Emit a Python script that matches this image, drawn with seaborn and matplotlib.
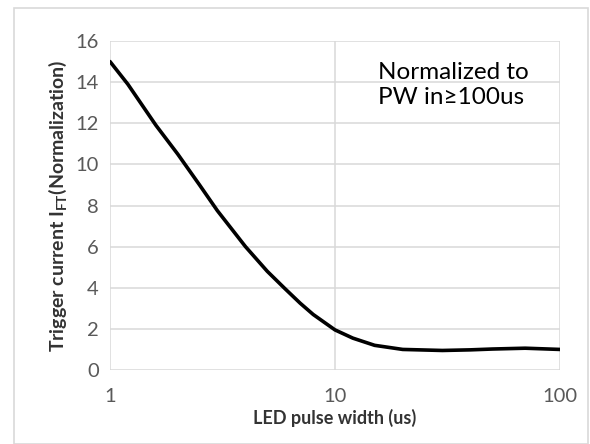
import pandas as pd
import numpy as np
import matplotlib
matplotlib.use("Agg")
import matplotlib.pyplot as plt
import seaborn as sns
from matplotlib.patches import Rectangle
from matplotlib.ticker import FixedLocator, FixedFormatter, NullLocator

pulse_width = [1, 1.2, 1.6, 2, 2.5, 3, 4, 5, 6, 7, 8, 10, 12, 15, 20, 30, 40, 50, 70, 100]
trigger_current = [15.0, 13.9, 11.9, 10.5, 9.0, 7.75, 6.0, 4.8, 3.95, 3.25, 2.7, 1.95,
                   1.55, 1.2, 1.0, 0.95, 0.98, 1.02, 1.06, 1.0]
x_ticks = [1, 10, 100]
y_ticks = [0, 2, 4, 6, 8, 10, 12, 14, 16]

df = pd.DataFrame({"pw": pulse_width, "ift": trigger_current})

sns.set_style("white")
plt.rcParams["font.family"] = ["Lato", "DejaVu Sans"]
plt.rcParams["mathtext.fontset"] = "custom"
plt.rcParams["mathtext.rm"] = "Lato"
plt.rcParams["mathtext.bf"] = "Lato:bold"

fig = plt.figure(figsize=(5.9, 4.44), dpi=100)
ax = fig.add_axes([110 / 590, 74 / 444, 450 / 590, 329 / 444])

# outer chart border
fig.patches.append(Rectangle((14 / 590, 0), 574 / 590, 436 / 444, transform=fig.transFigure,
                             fill=False, edgecolor="#d9d9d9", linewidth=1.2))

sns.lineplot(data=df, x="pw", y="ift", color="black", linewidth=2.6, ax=ax)
for ln in ax.get_lines():
    ln.set_solid_joinstyle("round")

ax.set_xscale("log")
ax.set_xlim(1, 100)
ax.set_ylim(0, 16)
ax.xaxis.set_major_locator(FixedLocator(x_ticks))
ax.xaxis.set_major_formatter(FixedFormatter([str(t) for t in x_ticks]))
ax.xaxis.set_minor_locator(NullLocator())
ax.set_yticks(y_ticks)

ax.grid(True, color="#d9d9d9", linewidth=1.1)
for s in ax.spines.values():
    s.set_visible(False)
ax.tick_params(length=0, labelsize=14.5, colors="#595959")
ax.tick_params(axis="y", pad=8)
ax.tick_params(axis="x", pad=13)

ax.set_xlabel("LED pulse width (us)", fontsize=13, fontweight="bold", color="#333333", labelpad=3)
ax.set_ylabel(r"Trigger current I$_{\mathbf{FT}}$(Normalization)", fontsize=14,
              fontweight="bold", color="#333333", labelpad=5)

ax.text(0.596, 0.937, "Normalized to\nPW in\u2265100us", transform=ax.transAxes,
        fontsize=17.5, color="black", va="top", ha="left", linespacing=1.28)

fig.savefig("out.png", dpi=100)
